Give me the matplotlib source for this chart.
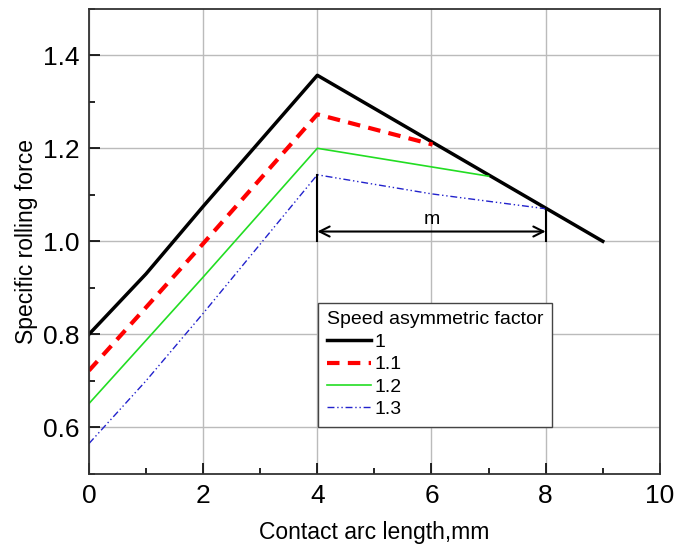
import matplotlib.pyplot as plt
from matplotlib.ticker import MultipleLocator

plt.rcParams['font.family'] = ['Liberation Sans', 'DejaVu Sans']

# ----------------- Data -----------------
x_1 = [0, 1, 2, 4, 9]
y_1 = [0.80, 0.93, 1.075, 1.357, 1.00]

x_11 = [0, 1, 2, 4, 6.02]
y_11 = [0.722, 0.858, 0.995, 1.273, 1.208]

x_12 = [0, 1, 2, 4, 7]
y_12 = [0.651, 0.787, 0.923, 1.200, 1.140]

x_13 = [0, 1, 2, 4, 6, 8]
y_13 = [0.565, 0.700, 0.845, 1.143, 1.102, 1.070]

labels = ['1', '1.1', '1.2', '1.3']

# dimension "m" between x=4 and x=8
m_start, m_end = 4, 8
m_base, m_arrow_y = 1.0, 1.021
m_top_start, m_top_end = 1.143, 1.070

# ----------------- Plot -----------------
fig = plt.figure(figsize=(6.74, 5.49), dpi=100)
ax = fig.add_axes([0.132, 0.137, 0.847, 0.847])

ax.plot(x_1, y_1, color='black', lw=2.5, label=labels[0])
ax.plot(x_11, y_11, color='red', lw=3, dashes=(3, 2), label=labels[1])
ax.plot(x_12, y_12, color='#22dd22', lw=1.2, label=labels[2])
ax.plot(x_13, y_13, color='#2222cc', lw=1.0, dashes=(5, 2, 1, 2, 1, 2), label=labels[3])

# dimension lines
ax.plot([m_start, m_start], [m_base, m_top_start], color='black', lw=1.5)
ax.plot([m_end, m_end], [m_base, m_top_end], color='black', lw=1.5)
ax.annotate('', xy=(m_end, m_arrow_y), xytext=(m_start, m_arrow_y),
            arrowprops=dict(arrowstyle='<->', color='black', lw=1.5,
                            shrinkA=0, shrinkB=0, mutation_scale=18))
ax.text((m_start + m_end) / 2, m_arrow_y + 0.008, 'm', ha='center', va='bottom',
        fontsize=14)

ax.set_xlim(0, 10)
ax.set_ylim(0.5, 1.5)
ax.xaxis.set_major_locator(MultipleLocator(2))
ax.xaxis.set_minor_locator(MultipleLocator(1))
ax.yaxis.set_major_locator(MultipleLocator(0.2))
ax.yaxis.set_minor_locator(MultipleLocator(0.1))
ax.set_yticks([0.6, 0.8, 1.0, 1.2, 1.4])
ax.tick_params(which='both', direction='in', labelsize=19)
ax.tick_params(which='major', length=8, width=1.2, pad=7)
ax.tick_params(which='minor', length=4, width=1.2)
ax.grid(True, color='#bbbbbb', lw=1.0)
for s in ax.spines.values():
    s.set_linewidth(1.3)
    s.set_color('#333333')

ax.set_xlabel('Contact arc length,mm', fontsize=16.5, labelpad=10)
ax.set_ylabel('Specific rolling force', fontsize=16.5, labelpad=3)

leg = ax.legend(title='Speed asymmetric factor', loc='upper left',
                bbox_to_anchor=(0.401, 0.368), fontsize=14, title_fontsize=14,
                fancybox=False, framealpha=1, edgecolor='#444444',
                handlelength=2.3, handletextpad=0.15, labelspacing=0.25,
                borderpad=0.45, borderaxespad=0, alignment='left')
leg.get_frame().set_linewidth(1.0)

plt.savefig('out.png', dpi=100)
